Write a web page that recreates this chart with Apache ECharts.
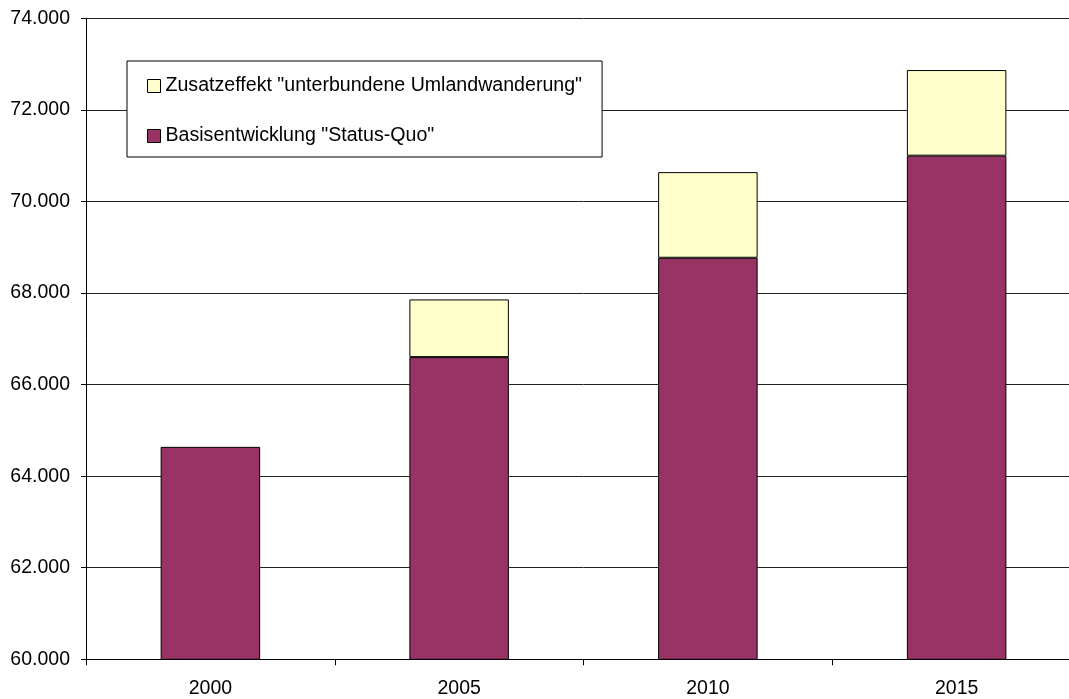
<!DOCTYPE html>
<html>
<head>
<meta charset="utf-8">
<script src="https://cdn.jsdelivr.net/npm/echarts@6/dist/echarts.min.js"></script>
<style>
  html, body { margin: 0; padding: 0; background: #fff; overflow: hidden; }
  /* plot area runs a little past the right edge of the window */
  #chart { width: 1081px; height: 699px; }
</style>
</head>
<body>
<div id="chart"></div>
<script>
// Years on the category axis
const years = ['2000', '2005', '2010', '2015'];
// Base development ("Status-Quo")
const basis = [64640, 66600, 68770, 71000];
// Additional effect stacked on top of the base
const zusatz = [null, 1260, 1870, 1870];
// Value axis range
const yMin = 60000, yMax = 74000, yStep = 2000;

const seriesNames = ['Basisentwicklung "Status-Quo"', 'Zusatzeffekt "unterbundene Umlandwanderung"'];
const FONT = '"Liberation Sans", Arial, sans-serif';

function fmt(v) {
  const s = String(Math.round(v));
  return s.replace(/\B(?=(\d{3})+(?!\d))/g, '.');
}

const chart = echarts.init(document.getElementById('chart'), null, { renderer: 'canvas' });
chart.setOption({
  animation: false,
  backgroundColor: '#ffffff',
  textStyle: { fontFamily: FONT },
  grid: { left: 86, top: 18.3, right: 0, height: 641, containLabel: false },
  legend: {
    orient: 'vertical',
    left: 127, top: 61,
    padding: [15, 20, 11, 20],
    itemGap: 30,
    itemWidth: 13, itemHeight: 13,
    borderColor: '#000', borderWidth: 1,
    backgroundColor: '#fff',
    icon: 'rect',
    data: [seriesNames[1], seriesNames[0]],
    itemStyle: { borderColor: '#000', borderWidth: 1 },
    textStyle: { fontFamily: FONT, fontSize: 19.6, color: '#000', lineHeight: 18 }
  },
  xAxis: {
    type: 'category',
    data: years,
    boundaryGap: true,
    axisLine: { lineStyle: { color: '#000', width: 1 } },
    axisTick: { show: true, length: 6, lineStyle: { color: '#000' } },
    axisLabel: { fontFamily: FONT, fontSize: 19.5, color: '#000', margin: 19 },
    splitLine: { show: false }
  },
  yAxis: {
    type: 'value',
    min: yMin, max: yMax, interval: yStep,
    axisLine: { show: true, lineStyle: { color: '#000', width: 1 } },
    axisTick: { show: true, length: 5, lineStyle: { color: '#000' } },
    axisLabel: { fontFamily: FONT, fontSize: 19.5, color: '#000', margin: 16, formatter: fmt },
    splitLine: { show: true, lineStyle: { color: '#222', width: 1 } }
  },
  series: [
    {
      name: seriesNames[0],
      type: 'bar',
      stack: 'total',
      barWidth: '40%',
      data: basis,
      itemStyle: { color: '#993366', borderColor: '#000', borderWidth: 1 }
    },
    {
      name: seriesNames[1],
      type: 'bar',
      stack: 'total',
      barWidth: '40%',
      data: zusatz,
      itemStyle: { color: '#FFFFCC', borderColor: '#000', borderWidth: 1 }
    }
  ]
});
</script>
</body>
</html>
